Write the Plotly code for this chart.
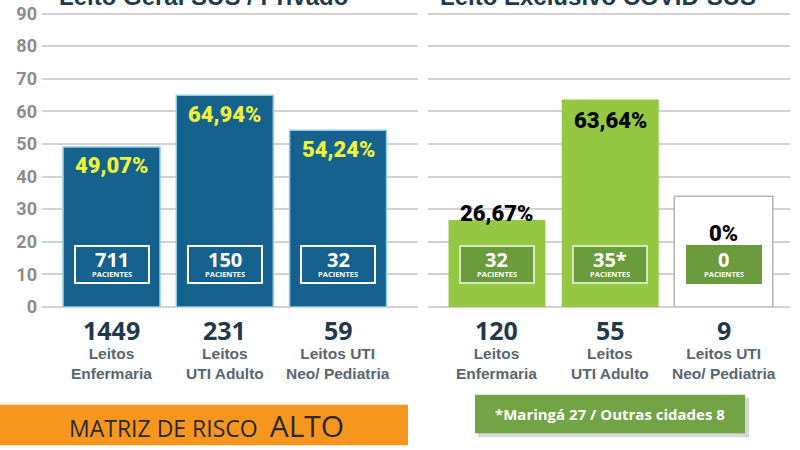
import plotly.graph_objects as go

categorias = ["Enfermaria", "UTI Adulto", "UTI Neo/ Pediatria"]
rotulos_leitos = ["Leitos<br>Enfermaria", "Leitos<br>UTI Adulto", "Leitos UTI<br>Neo/ Pediatria"]

geral_ocupacao = [49.07, 64.94, 54.24]
geral_leitos = [1449, 231, 59]
geral_pacientes = ["711", "150", "32"]

covid_ocupacao = [26.67, 63.64, 0]
covid_leitos = [120, 55, 9]
covid_pacientes = ["32", "35*", "0"]
covid_moldura = [0, 0, 34]  # caixa branca do leito sem ocupação

titulo_geral = "Leito Geral SUS / Privado"
titulo_covid = "Leito Exclusivo COVID-SUS"
nota_covid = "*Maringá 27 / Outras cidades 8"

AZUL = "#15628f"
VERDE = "#94c842"
VERDE_ESC = "#6a9b3c"
COND = "Roboto, Liberation Sans Narrow, sans-serif"
ARIAL = "Liberation Sans, Arial, sans-serif"
OPEN = "Open Sans, Liberation Sans, Arial, sans-serif"

W, H = 800, 450
ML, MR, MT, MB = 42, 10, 3, 143


def px(x):
    return (x - ML) / (W - ML - MR)


def py(y):
    return (H - MB - y) / (H - MT - MB)


def pct(v):
    return "0%" if v == 0 else f"{v:.2f}".replace(".", ",") + "%"


fig = go.Figure()

fig.add_trace(go.Bar(x=categorias, y=geral_ocupacao, width=0.856,
                     marker=dict(color=AZUL, line=dict(color="#8fcde6", width=1.5)),
                     xaxis="x", yaxis="y", hoverinfo="skip"))
fig.add_trace(go.Bar(x=categorias, y=covid_moldura, width=0.87,
                     marker=dict(color="white", line=dict(color="#b4b4b4", width=1.5)),
                     xaxis="x2", yaxis="y2", hoverinfo="skip"))
fig.add_trace(go.Bar(x=categorias, y=covid_ocupacao, width=0.856,
                     marker=dict(color=VERDE, line=dict(width=0)),
                     xaxis="x2", yaxis="y2", hoverinfo="skip"))

ann = []
for painel, vals, leitos, pac in [("", geral_ocupacao, geral_leitos, geral_pacientes),
                                  ("2", covid_ocupacao, covid_leitos, covid_pacientes)]:
    xr, yr = "x" + painel, "y" + painel
    for i, cat in enumerate(categorias):
        v = vals[i]
        # rótulo de percentual
        if painel == "":
            cor, ys = "#eef23c", -19
        elif v == 0:
            cor, ys = "black", -37
        elif v < 40:
            cor, ys = "black", 7
        else:
            cor, ys = "black", -21
        ybase = covid_moldura[i] if (painel == "2" and v == 0) else v
        ann.append(dict(x=cat, y=ybase, xref=xr, yref=yr, yshift=ys, yanchor="middle",
                        text=pct(v), showarrow=False,
                        font=dict(family=COND, size=22, color=cor, weight=900)))
        # caixa de pacientes
        if painel == "":
            bg, bc = AZUL, "white"
        else:
            bg, bc = VERDE_ESC, "#d6e8b8" if v > 0 else VERDE_ESC
        ann.append(dict(x=cat, y=12.9, xref=xr, yref=yr, showarrow=False, text=" ",
                        bgcolor=bg, bordercolor=bc, borderwidth=2, borderpad=1,
                        width=70, height=33))
        ann.append(dict(x=cat, y=12.9, xref=xr, yref=yr, yshift=5, showarrow=False,
                        text="<b>" + pac[i] + "</b>",
                        font=dict(family=OPEN, size=20, color="white")))
        ann.append(dict(x=cat, y=12.9, xref=xr, yref=yr, yshift=-9, showarrow=False,
                        text="<b>PACIENTES</b>",
                        font=dict(family=OPEN, size=7.5, color="white")))
        # número de leitos
        ann.append(dict(x=cat, y=0, xref=xr, yref=yr, yshift=-4, yanchor="top",
                        text="<b>" + str(leitos[i]) + "</b>", showarrow=False,
                        font=dict(family=OPEN, size=25, color="#22394b")))
        ann.append(dict(x=cat, y=0, xref=xr, yref=yr, yshift=-36, yanchor="top",
                        text="<b>" + rotulos_leitos[i] + "</b>", showarrow=False,
                        font=dict(family=ARIAL, size=15.5, color="#596670")))

# títulos cortados no topo
for t, cx in [(titulo_geral, 203), (titulo_covid, 598)]:
    ann.append(dict(x=px(cx), y=py(8), xref="paper", yref="paper",
                    xanchor="center", yanchor="bottom",
                    text="<b>" + t + "</b>", showarrow=False,
                    font=dict(family=ARIAL, size=24, color="#1f3a4d")))

# faixas inferiores
ann.append(dict(x=px(206), y=py(427), xref="paper", yref="paper", xanchor="center",
                yanchor="middle", showarrow=False,
                text="MATRIZ DE RISCO  <span style='font-size:30px'>ALTO</span>",
                font=dict(family=OPEN, size=23, color="#2a2a2a")))
ann.append(dict(x=px(610), y=py(415), xref="paper", yref="paper", xanchor="center",
                yanchor="middle", showarrow=False,
                text="<b>" + nota_covid + "</b>",
                font=dict(family=OPEN, size=15, color="white")))

shapes = [
    dict(type="rect", xref="paper", yref="paper", x0=px(0), x1=px(408), y0=py(447), y1=py(406),
         fillcolor="#f7961f", line=dict(width=0), layer="below"),
    dict(type="rect", xref="paper", yref="paper", x0=px(478), x1=px(749), y0=py(439), y1=py(399),
         fillcolor="#d6d6d6", line=dict(width=0), layer="below"),
    dict(type="rect", xref="paper", yref="paper", x0=px(475), x1=px(745), y0=py(435), y1=py(396),
         fillcolor="#72a344", line=dict(width=0), layer="below"),
]

eixo_y = dict(range=[0, 92], tickvals=list(range(0, 91, 10)), showgrid=True,
              gridcolor="#d2d2d2", gridwidth=2,
              zeroline=True, zerolinecolor="#d2d2d2", zerolinewidth=2, fixedrange=True)

fig.update_layout(
    width=W, height=H,
    margin=dict(l=ML, r=MR, t=MT, b=MB),
    paper_bgcolor="white", plot_bgcolor="white",
    showlegend=False, barmode="overlay",
    xaxis=dict(domain=[0, px(418)], type="category", range=[-0.614, 2.706],
               showticklabels=False, showgrid=False, anchor="y", fixedrange=True),
    xaxis2=dict(domain=[px(428), 1], type="category", range=[-0.609, 2.587],
                showticklabels=False, showgrid=False, anchor="y2", fixedrange=True),
    yaxis=dict(eixo_y, anchor="x", showticklabels=True, ticks="", ticklabelstandoff=4,
               ticklabeloverflow="allow",
               tickfont=dict(family=COND, size=18, color="#8c8c8c", weight="bold")),
    yaxis2=dict(eixo_y, anchor="x2", showticklabels=False),
    annotations=ann, shapes=shapes,
)

fig.write_html("out.html", config={"displayModeBar": False},
               post_script="document.body.style.margin='0';")
